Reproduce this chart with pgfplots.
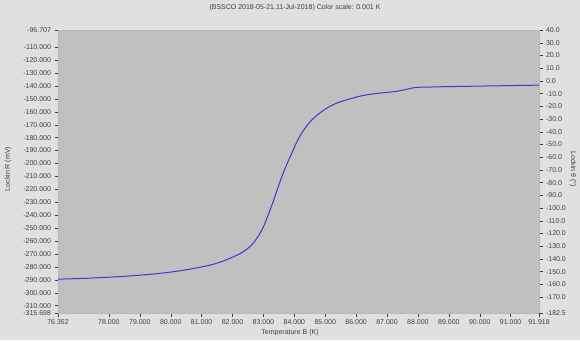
\documentclass[border=0pt]{standalone}
\usepackage{pgfplots}
\pgfplotsset{compat=1.18}
\usepackage{fontspec}
\setmainfont{Liberation Sans}
\definecolor{outerbg}{HTML}{E0E0E0}
\definecolor{plotbg}{HTML}{C0C0C0}
\definecolor{txt}{HTML}{404040}
\definecolor{curve}{HTML}{3A3AD0}
\pgfplotstableread{
T R
76.352 -289.5
76.8 -289.2
77.3 -288.8
77.8 -288.2
78.3 -287.6
78.8 -286.8
79.3 -285.8
79.8 -284.6
80.3 -283.0
80.8 -281.0
81.3 -278.5
81.7 -275.5
82.0 -272.5
82.3 -269.0
82.6 -263.5
82.8 -257.5
83.0 -249.0
83.15 -240.0
83.3 -230.5
83.45 -220.0
83.6 -210.0
83.75 -201.0
83.9 -193.0
84.05 -185.0
84.2 -178.0
84.4 -171.0
84.6 -165.5
84.85 -160.5
85.1 -156.5
85.4 -153.0
85.8 -150.0
86.2 -147.5
86.6 -146.0
87.0 -145.0
87.3 -144.2
87.6 -142.8
87.9 -141.2
88.3 -140.9
88.8 -140.6
89.3 -140.4
89.8 -140.2
90.3 -140.0
90.8 -139.8
91.3 -139.6
91.918 -139.4
}\curvedata
\begin{document}
\begin{tikzpicture}[x=1pt,y=1pt]
\fill[outerbg] (0,0) rectangle (580,340);
\useasboundingbox (0,0) rectangle (580,340);
\pgfplotsset{every axis/.append style={
  scale only axis, width=481pt, height=283pt,
  at={(58pt,27pt)}, anchor=south west,
  xmin=76.352, xmax=91.918,
  /pgf/number format/assume math mode=true,
  tick align=outside, major tick length=3.5pt,
  tick style={txt, line width=0.4pt},
  ticklabel style={font=\fontsize{7}{8}\selectfont, text=txt},
  axis line style={gray!55, line width=0.6pt},
}}
\begin{axis}[
  axis background/.style={fill=plotbg},
  ymin=-315.698, ymax=-96.707,
  xtick={76.352,78,79,80,81,82,83,84,85,86,87,88,89,90,91,91.918},
  ytick={-96.707,-110,-120,-130,-140,-150,-160,-170,-180,-190,-200,-210,-220,-230,-240,-250,-260,-270,-280,-290,-300,-310,-315.698},
  xtick pos=bottom, ytick pos=left,
  xticklabel style={/pgf/number format/.cd, fixed, fixed zerofill, precision=3},
  yticklabel style={/pgf/number format/.cd, fixed, fixed zerofill, precision=3},
]
\addplot[curve, line width=1pt, smooth, no markers] table[x=T, y=R] {\curvedata};
\end{axis}
\begin{axis}[
  ymin=-182.5, ymax=40,
  hide x axis, axis y line*=right,
  ytick={40,30,20,10,0,-10,-20,-30,-40,-50,-60,-70,-80,-90,-100,-110,-120,-130,-140,-150,-160,-170,-182.5},
  yticklabel style={/pgf/number format/.cd, fixed, fixed zerofill, precision=1},
]
\addplot[draw=none] coordinates {(80,0)};
\end{axis}
\node[font=\fontsize{7}{8}\selectfont, text=txt] at (295,332) {(BSSCO 2018-05-21,11-Jul-2018) Color scale: 0.001 K};
\node[font=\fontsize{7}{8}\selectfont, text=txt] at (290,7) {Temperature B (K)};
\node[font=\fontsize{7}{8}\selectfont, text=txt, rotate=90] at (8,171) {Lockin R (mV)};
\node[font=\fontsize{7}{8}\selectfont, text=txt, rotate=-90] at (573,171) {Lockin θ (°)};
\end{tikzpicture}
\end{document}
